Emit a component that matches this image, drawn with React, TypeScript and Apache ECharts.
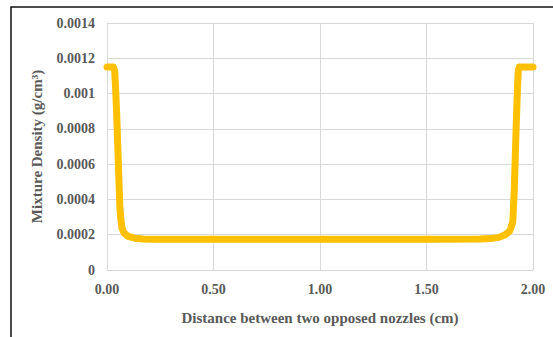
import React, { useEffect, useRef } from "react";
import * as echarts from "echarts";

const distance = [
  0.0, 0.01, 0.02, 0.03, 0.036, 0.04, 0.045, 0.05, 0.055, 0.06, 0.064, 0.07, 0.08, 0.1, 0.13, 0.17, 0.22,
  0.5, 1.0, 1.5, 1.75, 1.8, 1.84, 1.87, 1.89, 1.905, 1.912, 1.917, 1.922, 1.927, 1.931, 1.936, 1.95, 1.97, 1.99, 2.0,
];
const density = [
  0.00115, 0.00115, 0.00115, 0.00115, 0.00113, 0.00104, 0.0009, 0.00072, 0.00054, 0.00037, 0.0003, 0.00024, 0.00021, 0.00019, 0.00018, 0.000176, 0.000174,
  0.000174, 0.000174, 0.000174, 0.000176, 0.000178, 0.000185, 0.0002, 0.00022, 0.00027, 0.00045, 0.00065, 0.00085, 0.00103, 0.00113, 0.00115, 0.00115, 0.00115, 0.00115, 0.00115,
];
const xTicks = [0, 0.5, 1.0, 1.5, 2.0];
const yMax = 0.0014;
const yStep = 0.0002;

export default function App() {
  const ref = useRef<HTMLDivElement>(null);
  useEffect(() => {
    if (!ref.current) return;
    const chart = echarts.init(ref.current, undefined, { renderer: "svg" });
    const font = "'Liberation Serif', 'Times New Roman', serif";
    chart.setOption({
      animation: false,
      backgroundColor: "#ffffff",
      grid: { left: 107, right: 20, top: 23, bottom: 67 },
      xAxis: {
        type: "value",
        min: xTicks[0],
        max: xTicks[xTicks.length - 1],
        interval: 0.5,
        name: "Distance between two opposed nozzles (cm)",
        nameLocation: "middle",
        nameGap: 40,
        nameTextStyle: { fontFamily: font, fontWeight: "bold", fontSize: 15, color: "#595959" },
        axisLine: { show: true, lineStyle: { color: "#D9D9D9", width: 1 } },
        axisTick: { show: false },
        axisLabel: {
          fontFamily: font,
          fontWeight: "bold",
          fontSize: 14,
          color: "#595959",
          margin: 12,
          formatter: (v: number) => v.toFixed(2),
        },
        splitLine: { show: true, lineStyle: { color: "#D9D9D9", width: 1 } },
      },
      yAxis: {
        type: "value",
        min: 0,
        max: yMax,
        interval: yStep,
        name: "Mixture Density (g/cm³)",
        nameLocation: "middle",
        nameGap: 63,
        nameTextStyle: { fontFamily: font, fontWeight: "bold", fontSize: 15, color: "#595959" },
        axisLine: { show: true, lineStyle: { color: "#D9D9D9", width: 1 } },
        axisTick: { show: false },
        axisLabel: {
          fontFamily: font,
          fontWeight: "bold",
          fontSize: 14,
          color: "#595959",
          margin: 12,
          formatter: (v: number) => (v === 0 ? "0" : String(parseFloat(v.toFixed(4)))),
        },
        splitLine: { show: true, lineStyle: { color: "#D9D9D9", width: 1 } },
      },
      graphic: [
        {
          type: "polyline",
          shape: { points: [[11, 337], [11, 7], [553, 7]] },
          style: { stroke: "#111111", lineWidth: 1.5, fill: "none" },
          silent: true,
        },
      ],
      series: [
        {
          type: "line",
          data: distance.map((d, i) => [d, density[i]]),
          showSymbol: false,
          lineStyle: { color: "#FFC000", width: 7, cap: "round", join: "round" },
          itemStyle: { color: "#FFC000" },
        },
      ],
    });
    return () => chart.dispose();
  }, []);
  return <div ref={ref} style={{ position: "fixed", left: 0, top: 0, width: 553, height: 337 }} />;
}
